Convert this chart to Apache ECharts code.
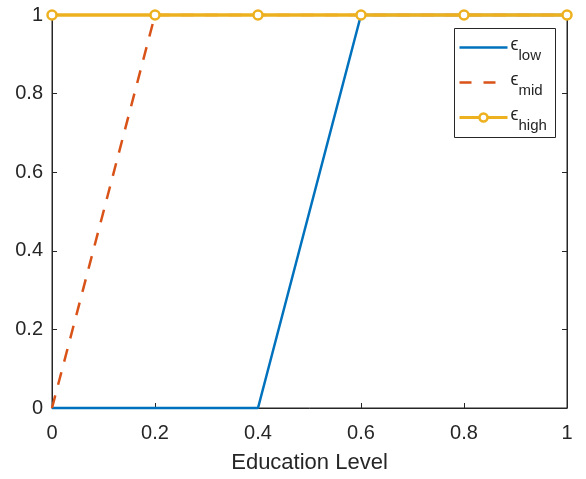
<!DOCTYPE html>
<html><head><meta charset="utf-8">
<script src="https://cdn.jsdelivr.net/npm/echarts@6/dist/echarts.min.js"></script>
<style>html,body{margin:0;padding:0;background:#fff}#c{width:586px;height:479px}</style>
</head><body><div id="c"></div>
<script>
const xValues = [0, 0.2, 0.4, 0.6, 0.8, 1];
const lowValues = [0, 0, 0, 1, 1, 1];
const midValues = [0, 1, 1, 1, 1, 1];
const highValues = [1, 1, 1, 1, 1, 1];
const seriesNames = ['low', 'mid', 'high'];
const xTicks = [0, 0.2, 0.4, 0.6, 0.8, 1];
const yTicks = [0, 0.2, 0.4, 0.6, 0.8, 1];

const font = 'Liberation Sans, Arial, Helvetica, sans-serif';
const axisColor = '#262626';
const colors = {low: '#0072BD', mid: '#D95319', high: '#EDB120'};
const pair = (vals) => xValues.map((x, i) => [x, vals[i]]);
const fmt = v => String(Math.round(v * 10) / 10);

const chart = echarts.init(document.getElementById('c'), null, {renderer: 'canvas'});
const baseAxis = {
  type: 'value', min: 0, max: 1, interval: 0.2,
  axisLine: {show: true, onZero: false, lineStyle: {color: axisColor, width: 1}},
  axisTick: {show: true, inside: true, length: 5, lineStyle: {color: axisColor}},
  splitLine: {show: false}
};

// manual legend (MATLAB style) built with graphic elements
const legLeft = 454, legTop = 28, rowGap = 35, firstRow = 19;
const legendChildren = [{
  type: 'rect', shape: {x: 0, y: 0, width: 101, height: 109},
  style: {fill: '#fff', stroke: axisColor, lineWidth: 1}
}];
seriesNames.forEach((n, i) => {
  const y = firstRow + i * rowGap;
  legendChildren.push({
    type: 'line', shape: {x1: 5, y1: y, x2: 53, y2: y},
    style: {stroke: colors[n], lineWidth: n === 'high' ? 3 : 2.5, lineDash: n === 'mid' ? [12, 12] : null}
  });
  if (n === 'high') {
    legendChildren.push({type: 'circle', shape: {cx: 29, cy: y, r: 4},
      style: {fill: '#fff', stroke: colors[n], lineWidth: 2.5}});
  }
  legendChildren.push({type: 'text', x: 56, y: y - 2,
    style: {text: 'ϵ', font: '18px ' + font, fill: axisColor, textVerticalAlign: 'middle'}});
  legendChildren.push({type: 'text', x: 64, y: y + 8,
    style: {text: n, font: '15px ' + font, fill: axisColor, textVerticalAlign: 'middle'}});
});

chart.setOption({
  animation: false,
  backgroundColor: '#fff',
  grid: {left: 52, right: 19, top: 15, bottom: 71, show: true, borderColor: axisColor, borderWidth: 1, backgroundColor: 'transparent'},
  xAxis: [
    Object.assign({}, baseAxis, {
      position: 'bottom',
      name: 'Education Level', nameLocation: 'middle', nameGap: 44,
      nameTextStyle: {fontFamily: font, fontSize: 22, color: axisColor},
      axisLabel: {fontFamily: font, fontSize: 20, color: axisColor, margin: 15, formatter: fmt}
    }),
    Object.assign({}, baseAxis, {position: 'top', axisLabel: {show: false}})
  ],
  yAxis: [
    Object.assign({}, baseAxis, {
      position: 'left',
      axisLabel: {fontFamily: font, fontSize: 20, color: axisColor, margin: 9, formatter: fmt}
    }),
    Object.assign({}, baseAxis, {position: 'right', axisLabel: {show: false}})
  ],
  graphic: [{type: 'group', left: legLeft, top: legTop, z: 100, children: legendChildren}],
  series: [
    {name: 'low', type: 'line', data: pair(lowValues), symbol: 'none', clip: false,
     lineStyle: {color: colors.low, width: 2.5}, itemStyle: {color: colors.low}},
    {name: 'mid', type: 'line', data: pair(midValues), symbol: 'none', clip: false,
     lineStyle: {color: colors.mid, width: 2.5, type: [13, 11]}, itemStyle: {color: colors.mid}},
    {name: 'high', type: 'line', data: pair(highValues), symbol: 'circle', symbolSize: 9, clip: false, z: 3,
     lineStyle: {color: colors.high, width: 3.5},
     itemStyle: {color: '#fff', borderColor: colors.high, borderWidth: 2.5}}
  ]
});
</script></body></html>
